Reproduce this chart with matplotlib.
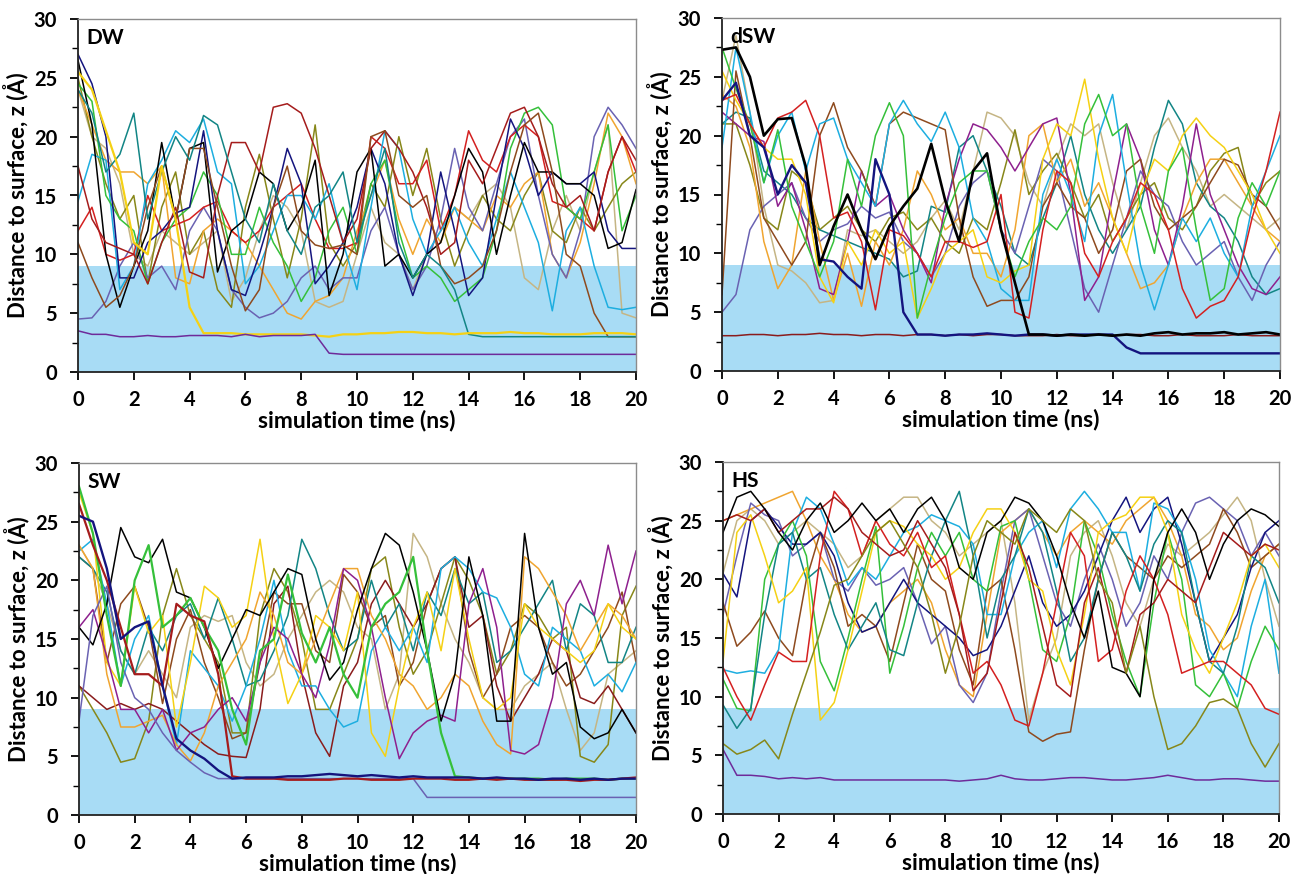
import numpy as np
import matplotlib
matplotlib.use('Agg')
import matplotlib.pyplot as plt
from matplotlib.ticker import MultipleLocator

# time axis (ns), sampled every 0.5 ns
time_ns = np.arange(0, 20.01, 0.5)

# ---------------- DW ----------------
dw_purple = [3.5, 3.2, 3.2, 3.0, 3.0, 3.1, 3.0, 3.0, 3.1, 3.1,
             3.1, 3.0, 3.2, 3.0, 3.1, 3.1, 3.1, 3.2, 1.6, 1.5,
             1.5, 1.5, 1.5, 1.5, 1.5, 1.5, 1.5, 1.5, 1.5, 1.5,
             1.5, 1.5, 1.5, 1.5, 1.5, 1.5, 1.5, 1.5, 1.5, 1.5, 1.5]
dw_yellow = [25.5, 24.0, 20.5, 17.0, 11.0, 10.0, 17.5, 13.0, 5.5, 3.3,
             3.3, 3.3, 3.2, 3.2, 3.2, 3.2, 3.2, 3.1, 3.0, 3.2,
             3.2, 3.3, 3.3, 3.4, 3.4, 3.3, 3.3, 3.2, 3.3, 3.3,
             3.3, 3.4, 3.3, 3.3, 3.2, 3.2, 3.2, 3.3, 3.3, 3.3, 3.2]
dw_teal = [24.0, 22.0, 17.0, 18.5, 22.0, 13.0, 17.0, 20.0, 18.0, 21.8,
           21.0, 17.0, 13.0, 11.0, 16.0, 12.0, 10.0, 14.0, 15.0, 17.0,
           11.0, 15.0, 19.0, 11.0, 8.0, 10.0, 9.0, 7.0, 3.2, 3.0,
           3.0, 3.0, 3.0, 3.0, 3.0, 3.0, 3.0, 3.0, 3.0, 3.0, 3.0]
dw_brown = [11.0, 8.0, 5.5, 6.5, 9.0, 14.0, 17.5, 13.0, 19.0, 19.0,
            14.0, 9.0, 5.2, 7.0, 14.0, 17.5, 12.0, 10.8, 10.5, 10.8,
            10.0, 20.0, 20.5, 15.0, 14.0, 15.0, 9.0, 7.5, 8.0, 9.0,
            12.0, 17.0, 21.0, 22.0, 17.0, 10.0, 9.0, 5.0, 3.0, 3.0, 3.0]
dw_cyan = [14.5, 18.5, 18.0, 7.0, 9.0, 16.0, 18.0, 20.5, 19.5, 21.5,
           17.0, 16.0, 7.5, 9.0, 12.0, 15.0, 15.0, 13.0, 16.0, 11.0,
           7.0, 14.0, 20.5, 19.0, 13.0, 10.0, 12.0, 14.0, 11.0, 9.0,
           13.0, 17.0, 14.0, 11.0, 5.2, 12.0, 14.0, 9.0, 5.5, 5.3, 5.5]
dw_tan = [24.0, 20.0, 19.0, 16.0, 10.0, 9.0, 12.0, 11.0, 10.0, 11.0,
          12.0, 6.0, 8.0, 12.0, 15.0, 14.0, 12.0, 6.0, 5.5, 6.0,
          10.0, 14.0, 11.0, 10.0, 7.0, 10.0, 12.0, 14.0, 13.0, 15.0,
          16.0, 14.0, 8.0, 7.0, 12.0, 15.0, 12.0, 17.0, 21.0, 5.0, 4.6]
dw_darkred = [17.5, 13.0, 11.0, 10.5, 10.0, 7.5, 11.0, 14.0, 8.5, 8.0,
              15.0, 19.5, 19.5, 17.0, 22.5, 22.8, 22.0, 19.0, 15.0, 11.0,
              13.0, 19.0, 20.5, 19.0, 17.0, 14.0, 10.0, 11.0, 18.0, 16.0,
              19.0, 22.0, 22.5, 20.0, 16.0, 14.0, 15.0, 12.0, 17.0, 20.0, 18.0]
dw_green = [24.5, 23.0, 15.0, 13.0, 12.0, 7.5, 11.0, 13.0, 14.0, 17.0,
            15.0, 10.0, 10.0, 14.0, 11.0, 9.0, 6.0, 8.0, 12.0, 14.0,
            10.0, 16.0, 18.0, 12.0, 8.0, 9.0, 8.0, 6.0, 7.0, 8.0,
            12.0, 19.0, 22.0, 22.5, 21.0, 14.0, 13.0, 17.0, 21.0, 12.0, 15.0]
dw_black = [26.5, 21.0, 10.0, 5.5, 9.0, 12.0, 19.5, 13.0, 19.0, 19.5,
            8.5, 12.0, 13.0, 17.0, 16.0, 12.0, 14.0, 18.0, 6.5, 10.0,
            17.0, 19.0, 9.0, 10.0, 8.0, 10.0, 11.0, 15.0, 19.0, 17.0,
            10.0, 15.0, 19.5, 17.0, 17.0, 16.0, 16.0, 15.0, 10.5, 11.0, 15.5]
dw_navy = [27.0, 24.5, 20.0, 8.0, 8.0, 11.0, 12.0, 13.5, 14.0, 20.5,
           12.0, 7.0, 6.5, 10.0, 14.0, 19.0, 16.0, 7.5, 9.0, 11.0,
           14.0, 19.0, 16.0, 10.0, 6.5, 10.0, 17.0, 12.0, 6.5, 8.0,
           15.0, 21.5, 19.0, 15.0, 17.0, 16.0, 16.0, 17.0, 12.0, 10.5, 10.5]
dw_slate = [4.5, 4.6, 6.0, 9.0, 11.0, 8.0, 9.0, 7.0, 12.0, 14.0,
            12.0, 7.0, 5.5, 4.6, 5.0, 6.0, 8.0, 9.0, 7.0, 8.0,
            8.0, 12.0, 14.0, 10.0, 7.0, 9.0, 13.0, 19.0, 14.0, 12.0,
            16.0, 20.0, 21.5, 15.0, 10.0, 8.0, 12.0, 20.0, 22.5, 21.0, 19.0]
dw_olive = [25.0, 20.0, 16.0, 13.0, 15.0, 7.5, 14.0, 17.0, 10.0, 12.0,
            7.0, 5.5, 14.0, 18.5, 13.0, 8.0, 13.0, 21.0, 11.0, 9.0,
            11.0, 16.0, 14.0, 20.0, 15.0, 19.0, 13.0, 9.0, 12.0, 15.0,
            13.0, 12.0, 15.0, 17.0, 12.0, 11.0, 14.0, 12.0, 14.0, 16.0, 17.0]
dw_orange = [24.0, 21.0, 18.0, 17.0, 17.0, 16.0, 17.5, 8.0, 7.5, 12.0,
             13.0, 12.0, 11.0, 9.0, 7.0, 5.0, 4.5, 6.0, 6.5, 8.0,
             12.0, 15.0, 18.0, 13.0, 10.0, 13.0, 11.0, 14.0, 13.0, 12.0,
             15.0, 14.0, 16.0, 17.0, 10.0, 8.0, 11.0, 16.0, 22.0, 20.0, 16.0]
dw_red = [12.0, 14.0, 10.0, 9.5, 10.0, 15.0, 12.0, 12.5, 13.0, 14.0,
          14.5, 12.0, 11.0, 12.0, 14.0, 15.0, 16.0, 13.0, 10.5, 10.5,
          11.0, 20.0, 19.0, 16.0, 16.0, 18.0, 12.0, 15.0, 20.5, 18.0,
          17.0, 20.0, 21.0, 20.0, 14.5, 14.0, 13.0, 12.0, 17.0, 20.0, 17.0]

# ---------------- dSW ----------------
ds_maroon = [3.0, 3.0, 3.1, 3.1, 3.0, 3.1, 3.1, 3.2, 3.1, 3.1,
             3.0, 3.1, 3.1, 3.0, 3.1, 3.1, 3.0, 3.1, 3.0, 3.1,
             3.1, 3.0, 3.0, 3.0, 3.1, 3.0, 3.0, 3.1, 3.0, 3.1,
             3.1, 3.0, 3.0, 3.1, 3.0, 3.0, 3.0, 3.1, 3.0, 3.0, 3.0]
ds_black = [27.3, 27.5, 25.0, 20.0, 21.4, 21.5, 17.4, 9.0, 12.3, 15.0,
            12.0, 9.5, 12.3, 14.0, 15.5, 19.3, 14.5, 11.0, 17.0, 18.5,
            12.0, 7.5, 3.1, 3.1, 3.0, 3.1, 3.0, 3.1, 3.0, 3.1,
            3.0, 3.2, 3.3, 3.1, 3.2, 3.2, 3.3, 3.1, 3.2, 3.3, 3.1]
ds_navy = [23.0, 24.5, 20.0, 19.0, 15.0, 17.5, 16.0, 9.5, 9.3, 8.0,
           7.0, 18.0, 15.0, 5.0, 3.1, 3.1, 3.0, 3.1, 3.1, 3.2,
           3.1, 3.0, 3.1, 3.1, 3.0, 3.1, 3.1, 3.1, 3.1, 2.0,
           1.5, 1.5, 1.5, 1.5, 1.5, 1.5, 1.5, 1.5, 1.5, 1.5, 1.5]
ds_cyan = [19.0, 27.5, 22.0, 16.0, 20.0, 22.0, 17.0, 21.0, 21.5, 18.0,
           16.0, 14.0, 21.0, 23.0, 21.0, 19.5, 22.0, 19.0, 13.0, 11.0,
           7.0, 6.0, 6.0, 15.0, 18.0, 15.0, 11.0, 20.0, 23.5, 16.0,
           9.0, 5.2, 9.0, 13.0, 11.0, 13.0, 10.0, 8.0, 14.0, 17.0, 20.0]
ds_green = [27.5, 24.0, 21.0, 16.0, 20.5, 14.0, 11.0, 8.0, 11.0, 18.0,
            14.0, 20.0, 22.8, 20.0, 4.5, 9.0, 13.0, 16.0, 17.0, 17.0,
            12.0, 8.0, 11.0, 13.0, 12.0, 14.0, 21.0, 23.5, 20.0, 21.0,
            14.0, 10.0, 17.0, 19.0, 12.0, 6.0, 7.0, 13.0, 16.0, 14.0, 17.0]
ds_yellow = [25.5, 23.0, 21.0, 19.0, 18.0, 18.0, 15.0, 8.0, 5.8, 11.0,
             9.0, 12.0, 10.0, 11.0, 4.5, 7.0, 10.0, 11.0, 12.0, 8.0,
             7.5, 8.5, 9.0, 18.0, 21.0, 20.0, 24.8, 18.0, 13.0, 10.0,
             15.0, 18.0, 17.0, 20.0, 21.5, 20.0, 19.0, 17.0, 15.0, 12.0, 10.0]
ds_orange = [23.5, 22.5, 19.0, 11.0, 7.0, 9.0, 17.0, 11.0, 6.0, 10.0,
             5.5, 11.0, 9.0, 12.0, 17.0, 15.0, 12.0, 13.0, 10.0, 10.0,
             8.0, 12.0, 20.0, 21.0, 16.0, 18.0, 14.0, 16.0, 13.0, 10.0,
             7.0, 7.5, 9.0, 13.0, 16.0, 18.0, 18.0, 16.0, 14.0, 12.0, 11.0]
ds_red = [23.0, 23.5, 21.0, 19.0, 21.5, 22.0, 23.0, 20.0, 13.0, 13.5,
          11.0, 5.2, 12.0, 11.5, 10.0, 8.0, 11.0, 11.0, 10.5, 11.0,
          15.0, 5.0, 4.5, 12.0, 17.0, 16.0, 10.0, 8.0, 11.0, 13.0,
          16.0, 15.0, 12.0, 7.0, 4.5, 5.5, 6.0, 8.0, 13.0, 17.0, 22.0]
ds_brown = [6.5, 25.5, 20.0, 13.0, 11.0, 9.0, 11.0, 20.0, 22.8, 19.0,
            17.0, 14.0, 21.0, 22.0, 21.5, 21.0, 20.5, 13.0, 8.0, 5.5,
            6.0, 6.0, 8.0, 14.0, 16.0, 14.0, 13.0, 10.0, 12.0, 17.0,
            18.0, 14.0, 12.0, 13.0, 14.0, 16.0, 18.0, 17.5, 15.0, 14.0, 12.0]
ds_slate = [5.0, 6.5, 12.0, 14.0, 15.0, 16.0, 13.0, 11.0, 12.0, 12.5,
            14.0, 13.0, 13.5, 11.0, 10.0, 8.0, 10.0, 14.0, 16.0, 17.0,
            12.0, 10.0, 14.0, 18.0, 17.0, 12.0, 7.0, 5.0, 9.0, 13.0,
            17.0, 15.0, 14.0, 11.0, 9.0, 10.0, 11.0, 8.0, 6.0, 9.0, 11.0]
ds_purple = [22.0, 21.0, 20.0, 19.5, 14.0, 16.0, 12.0, 7.0, 6.5, 11.0,
             17.0, 14.0, 15.0, 12.0, 10.0, 7.5, 14.0, 18.0, 21.0, 20.5,
             19.0, 17.0, 19.0, 21.0, 21.5, 15.0, 6.0, 8.0, 15.0, 21.0,
             18.0, 12.0, 9.0, 14.0, 21.0, 15.0, 12.0, 9.0, 7.0, 6.5, 8.0]
ds_tan = [23.0, 28.5, 22.0, 14.0, 9.0, 8.5, 7.5, 5.8, 6.0, 12.0,
          11.5, 12.0, 11.0, 10.0, 11.0, 13.0, 14.5, 12.0, 17.0, 22.0,
          21.5, 20.0, 16.0, 14.0, 18.0, 21.0, 20.0, 21.0, 16.0, 12.0,
          16.0, 20.0, 21.5, 19.0, 17.0, 14.0, 15.0, 14.0, 13.0, 12.0, 13.0]
ds_teal = [21.0, 22.0, 21.5, 17.0, 16.0, 15.0, 13.0, 12.0, 11.5, 11.0,
           10.5, 10.0, 9.5, 8.0, 8.5, 14.0, 13.5, 19.0, 20.0, 17.0,
           14.0, 10.0, 9.0, 13.0, 16.0, 20.0, 15.0, 12.0, 10.0, 12.0,
           14.0, 19.0, 23.0, 21.0, 16.0, 14.0, 13.0, 11.0, 8.0, 6.5, 7.0]
ds_olive = [21.0, 21.0, 17.5, 13.0, 12.0, 17.0, 16.0, 12.0, 13.0, 14.0,
            12.0, 11.0, 13.0, 13.5, 12.0, 13.0, 11.0, 10.0, 13.0, 12.0,
            16.0, 20.5, 15.0, 17.0, 18.5, 16.0, 13.0, 15.0, 11.0, 13.0,
            15.0, 16.0, 13.0, 12.0, 14.0, 17.0, 18.5, 19.0, 14.0, 16.0, 17.0]

# ---------------- SW ----------------
sw_black = [16.0, 14.5, 18.0, 24.5, 22.0, 21.5, 23.5, 19.0, 18.5, 16.0,
            12.5, 15.0, 17.5, 17.0, 19.0, 21.0, 20.5, 15.0, 11.5, 13.0,
            17.5, 21.0, 24.0, 23.0, 19.0, 14.0, 8.0, 12.0, 22.0, 17.0,
            8.0, 8.0, 24.0, 16.0, 12.0, 13.0, 7.5, 6.5, 7.0, 9.0, 7.0]
sw_navy = [25.5, 25.0, 21.0, 15.0, 16.0, 16.5, 11.0, 6.5, 5.5, 4.8,
           3.8, 3.1, 3.2, 3.2, 3.2, 3.3, 3.3, 3.4, 3.5, 3.4,
           3.3, 3.4, 3.3, 3.2, 3.3, 3.2, 3.2, 3.2, 3.2, 3.1,
           3.2, 3.1, 3.1, 3.0, 3.1, 3.1, 3.0, 3.1, 3.0, 3.1, 3.1]
sw_darkred = [26.5, 23.0, 20.0, 16.0, 12.0, 12.0, 11.0, 18.0, 17.0, 16.5,
              12.0, 3.3, 3.1, 3.1, 3.1, 3.0, 3.0, 3.0, 3.0, 3.1,
              3.1, 3.0, 3.0, 3.0, 3.1, 3.1, 3.1, 3.0, 3.0, 3.1,
              3.0, 3.1, 3.0, 3.0, 3.0, 3.0, 2.9, 3.0, 3.0, 3.1, 3.2]
sw_slate = [8.0, 17.0, 19.5, 13.0, 10.0, 9.0, 7.0, 5.5, 4.5, 3.6,
            3.1, 3.1, 3.1, 3.1, 3.1, 3.1, 3.1, 3.1, 3.1, 3.1,
            3.1, 3.1, 3.1, 3.1, 3.1, 1.5, 1.5, 1.5, 1.5, 1.5,
            1.5, 1.5, 1.5, 1.5, 1.5, 1.5, 1.5, 1.5, 1.5, 1.5, 1.5]
sw_green = [28.0, 24.0, 17.0, 11.0, 20.0, 23.0, 16.0, 17.0, 18.5, 16.0,
            14.0, 9.0, 6.0, 14.0, 15.0, 20.5, 15.5, 13.0, 16.0, 12.0,
            10.0, 16.0, 18.0, 19.0, 22.0, 14.0, 7.0, 3.3, 3.2, 3.1,
            3.1, 3.1, 3.1, 3.1, 3.0, 3.1, 3.1, 3.1, 3.0, 3.1, 3.1]
sw_teal = [22.0, 21.0, 19.0, 14.0, 12.0, 16.0, 14.0, 17.0, 18.0, 15.0,
           18.5, 15.0, 11.0, 11.5, 14.0, 17.0, 23.5, 21.0, 17.0, 14.0,
           15.0, 20.0, 16.0, 18.0, 14.0, 19.0, 17.0, 21.0, 18.0, 19.0,
           13.0, 14.0, 16.0, 18.0, 20.0, 14.0, 18.0, 17.0, 13.0, 13.0, 16.0]
sw_cyan = [22.5, 23.5, 18.0, 11.0, 15.0, 17.0, 11.0, 6.0, 14.0, 12.5,
           11.0, 8.0, 11.0, 15.0, 20.0, 14.0, 11.0, 11.0, 9.0, 7.5,
           8.0, 14.0, 16.0, 14.0, 16.0, 13.0, 21.0, 22.0, 21.0, 19.0,
           18.5, 16.0, 12.0, 11.0, 16.0, 15.0, 14.0, 11.0, 12.0, 10.5, 13.0]
sw_yellow = [27.5, 24.0, 13.0, 11.0, 19.5, 15.5, 17.0, 7.5, 13.0, 19.5,
             18.5, 16.0, 17.0, 23.5, 15.0, 9.5, 12.0, 17.0, 16.0, 14.0,
             19.0, 7.0, 5.0, 11.0, 16.0, 19.0, 14.0, 21.0, 15.0, 10.0,
             9.0, 10.0, 18.0, 16.0, 15.0, 14.0, 13.0, 14.0, 18.0, 16.0, 15.0]
sw_orange = [23.0, 21.0, 12.0, 7.5, 7.5, 8.0, 8.5, 6.0, 4.6, 7.0,
             11.0, 13.0, 15.0, 19.0, 17.0, 13.0, 12.0, 15.0, 18.0, 21.0,
             21.0, 17.0, 15.0, 12.0, 11.0, 9.0, 10.0, 12.0, 11.0, 8.0,
             6.0, 5.2, 22.0, 21.0, 19.0, 17.0, 14.0, 16.0, 18.0, 17.0, 15.0]
sw_purple = [16.0, 17.5, 13.5, 9.0, 9.0, 7.0, 9.0, 5.5, 7.0, 7.5,
             9.0, 10.0, 8.0, 13.0, 16.0, 15.0, 12.0, 10.0, 14.5, 21.0,
             20.0, 16.0, 10.0, 4.8, 7.0, 8.0, 8.5, 8.0, 18.0, 21.0,
             16.0, 5.5, 5.2, 6.0, 10.0, 18.0, 20.0, 17.0, 23.0, 18.0, 22.5]
sw_maroon = [11.0, 10.0, 9.0, 9.5, 9.0, 9.5, 9.0, 8.0, 7.0, 6.0,
             5.2, 5.0, 4.9, 9.0, 18.0, 19.5, 12.0, 7.0, 5.0, 11.0,
             13.0, 18.0, 20.0, 18.0, 16.0, 18.0, 21.0, 22.0, 16.0, 17.0,
             11.0, 8.0, 10.0, 12.0, 15.0, 14.0, 10.0, 9.5, 11.0, 9.0, 7.0]
sw_brown = [22.0, 21.0, 13.0, 18.0, 19.5, 16.0, 9.5, 15.0, 17.5, 13.0,
            10.0, 6.5, 7.0, 13.0, 19.0, 18.0, 18.0, 14.0, 13.0, 20.5,
            19.0, 16.0, 17.0, 11.0, 13.0, 18.0, 21.0, 22.0, 14.0, 10.0,
            12.0, 16.0, 17.0, 16.0, 13.0, 11.0, 12.0, 14.0, 16.0, 19.0, 13.0]
sw_olive = [11.0, 9.0, 7.0, 4.5, 4.8, 8.0, 17.0, 21.0, 17.0, 15.0,
            13.0, 7.0, 7.0, 17.0, 21.0, 19.0, 15.0, 9.0, 9.0, 12.0,
            15.0, 21.0, 22.0, 16.0, 12.0, 14.0, 18.0, 22.0, 20.0, 17.0,
            12.0, 14.0, 18.0, 17.0, 15.0, 16.0, 5.0, 4.5, 6.0, 17.0, 19.5]
sw_tan = [23.0, 21.0, 18.0, 14.0, 12.0, 14.0, 12.0, 10.0, 16.0, 17.0,
          16.5, 17.0, 13.0, 11.0, 12.0, 15.0, 17.0, 19.0, 20.0, 19.0,
          16.0, 15.0, 9.0, 12.0, 24.0, 22.0, 18.0, 15.0, 13.0, 10.0,
          9.0, 9.0, 11.0, 12.0, 13.0, 9.0, 5.5, 7.0, 12.0, 13.0, 14.0]

# ---------------- HS ----------------
hs_purple = [5.5, 3.3, 3.3, 3.2, 3.0, 3.1, 3.0, 3.1, 2.9, 2.9,
             2.9, 2.9, 2.9, 2.9, 2.9, 2.9, 2.9, 2.8, 2.9, 3.0,
             3.3, 3.0, 2.9, 2.9, 3.0, 3.1, 3.1, 3.0, 2.9, 2.9,
             3.0, 3.1, 3.3, 3.1, 2.9, 2.9, 3.0, 3.0, 2.9, 2.8, 2.8]
hs_olive = [6.0, 5.1, 5.5, 6.3, 4.7, 8.5, 12.0, 15.5, 19.5, 20.0,
            22.0, 24.0, 25.0, 23.0, 21.0, 17.0, 12.0, 16.0, 22.0, 25.0,
            24.0, 23.0, 26.0, 25.0, 24.0, 26.0, 25.0, 20.0, 18.0, 12.0,
            16.0, 10.0, 5.5, 6.0, 7.5, 9.5, 9.8, 9.0, 6.0, 4.0, 6.0]
hs_yellow = [13.0, 24.0, 25.5, 22.0, 18.0, 19.0, 21.0, 8.0, 9.5, 14.0,
             19.0, 24.0, 25.0, 24.5, 23.0, 22.0, 20.0, 21.0, 24.0, 26.0,
             26.0, 24.0, 20.0, 19.0, 14.0, 11.0, 17.0, 24.0, 25.0, 25.5,
             27.0, 27.0, 24.0, 17.0, 14.0, 12.0, 15.0, 18.0, 22.0, 23.0, 21.0]
hs_teal = [9.3, 7.3, 9.0, 17.0, 23.0, 24.0, 20.0, 21.0, 17.0, 14.0,
           16.0, 18.0, 14.0, 13.5, 18.0, 22.0, 25.0, 27.5, 22.0, 15.0,
           20.0, 22.0, 26.0, 24.0, 19.0, 13.0, 15.0, 20.0, 24.0, 22.0,
           19.0, 23.0, 25.0, 24.0, 18.0, 13.0, 12.0, 16.0, 22.0, 21.0, 18.0]
hs_green = [11.5, 9.0, 8.8, 20.0, 23.0, 25.0, 22.0, 13.0, 10.5, 15.0,
            20.0, 24.5, 12.0, 16.0, 21.0, 24.0, 22.0, 24.0, 20.0, 19.0,
            24.5, 25.0, 20.0, 14.0, 13.0, 17.0, 25.0, 22.0, 17.0, 13.0,
            10.0, 18.0, 24.0, 20.0, 11.0, 10.0, 12.0, 9.0, 13.0, 16.0, 14.0]
hs_red = [12.5, 10.0, 8.0, 11.0, 13.8, 13.0, 13.0, 22.0, 27.5, 26.0,
          22.0, 25.0, 23.0, 22.0, 24.0, 21.0, 22.0, 17.0, 12.0, 13.0,
          11.0, 8.0, 7.5, 12.0, 18.0, 24.0, 22.0, 13.0, 14.0, 19.0,
          22.0, 20.0, 17.0, 12.0, 12.5, 13.0, 13.0, 12.0, 11.0, 9.0, 8.5]
hs_darkred = [25.0, 25.5, 25.0, 26.0, 24.0, 25.0, 26.0, 26.0, 27.0, 26.0,
              24.0, 23.0, 22.0, 22.5, 25.0, 23.0, 21.0, 17.0, 10.5, 12.0,
              18.0, 24.0, 21.0, 16.0, 11.0, 10.0, 18.0, 21.0, 16.0, 12.0,
              17.0, 18.0, 20.0, 19.0, 18.0, 21.0, 24.0, 23.0, 22.0, 23.0, 22.5]
hs_black = [24.0, 27.0, 27.5, 26.0, 24.0, 22.5, 25.0, 26.5, 24.0, 25.0,
            26.5, 25.0, 26.0, 24.0, 26.0, 27.0, 25.0, 21.0, 20.0, 24.0,
            25.0, 27.0, 26.5, 25.0, 22.0, 18.0, 15.0, 19.0, 12.5, 12.0,
            10.0, 20.0, 24.0, 26.0, 24.0, 20.0, 23.0, 25.0, 26.0, 25.5, 24.5]
hs_navy = [20.5, 18.5, 25.0, 26.0, 24.5, 23.0, 23.0, 24.0, 22.0, 18.0,
           15.5, 16.0, 18.0, 20.0, 18.0, 17.0, 16.0, 15.0, 13.5, 14.0,
           16.0, 19.0, 22.0, 18.0, 16.0, 17.0, 19.0, 22.0, 25.0, 27.0,
           24.0, 26.0, 27.0, 23.0, 18.0, 13.0, 15.0, 17.0, 21.0, 24.0, 25.0]
hs_cyan = [12.3, 12.0, 12.2, 12.0, 14.0, 24.0, 27.0, 26.0, 23.0, 19.5,
           21.0, 20.0, 22.0, 24.0, 24.5, 25.5, 25.0, 24.5, 23.0, 17.0,
           17.0, 22.0, 24.0, 25.0, 21.0, 26.0, 27.5, 26.0, 24.0, 24.0,
           19.0, 26.5, 26.0, 24.0, 20.0, 14.0, 12.0, 10.0, 16.0, 20.0, 12.0]
hs_brown = [18.0, 14.3, 15.5, 17.3, 15.0, 13.5, 20.0, 24.0, 21.0, 16.0,
            17.0, 16.0, 13.0, 18.0, 23.0, 20.0, 19.0, 14.0, 11.0, 19.0,
            20.0, 14.0, 7.0, 6.2, 6.8, 7.0, 14.0, 20.0, 24.0, 22.0,
            21.0, 20.0, 22.0, 21.0, 22.0, 23.0, 26.0, 24.0, 21.0, 22.0, 23.0]
hs_tan = [20.5, 25.0, 26.0, 25.0, 23.0, 24.0, 25.0, 24.0, 23.0, 21.0,
          22.0, 25.0, 26.0, 27.0, 27.0, 25.0, 24.0, 22.0, 23.0, 24.0,
          25.0, 18.0, 8.0, 12.0, 15.0, 22.0, 24.0, 25.0, 22.0, 18.0,
          16.0, 20.0, 23.0, 22.0, 23.0, 24.0, 25.5, 27.0, 25.0, 20.0, 16.0]
hs_orange = [25.0, 25.5, 26.0, 26.5, 27.0, 27.5, 25.0, 22.0, 20.0, 17.0,
             15.5, 16.0, 18.0, 19.0, 20.0, 18.0, 14.0, 11.0, 10.0, 17.0,
             24.0, 25.0, 26.0, 24.0, 22.0, 24.0, 25.0, 24.0, 23.0, 25.0,
             26.0, 27.0, 25.0, 22.0, 17.0, 16.0, 14.0, 15.0, 19.0, 22.0, 23.0]
hs_slate = [17.0, 22.0, 26.5, 25.5, 25.0, 22.0, 23.0, 24.0, 20.0, 19.0,
            21.0, 19.5, 20.0, 21.0, 18.0, 14.5, 16.0, 11.0, 9.5, 12.0,
            19.0, 25.0, 26.0, 22.0, 18.0, 16.0, 20.0, 23.0, 20.0, 16.0,
            18.0, 22.0, 20.0, 24.0, 26.5, 27.0, 26.0, 25.0, 22.0, 24.0, 22.0]

colors = {
    'purple': '#6E2B9A', 'yellow': '#F5D114', 'teal': '#128585',
    'brown': '#8E4A1E', 'cyan': '#1DAEE0', 'tan': '#C5B584',
    'darkred': '#A51C1C', 'green': '#35C03A', 'black': '#000000',
    'navy': '#14147E', 'slate': '#6A62B2', 'olive': '#878719',
    'orange': '#F0A530', 'red': '#D42020', 'maroon': '#8A1C1C',
    'magenta': '#8E208E',
}

panels = [
    ('DW', [('tan', dw_tan), ('olive', dw_olive), ('orange', dw_orange),
            ('slate', dw_slate), ('red', dw_red), ('cyan', dw_cyan),
            ('green', dw_green), ('navy', dw_navy), ('black', dw_black),
            ('darkred', dw_darkred), ('brown', dw_brown), ('teal', dw_teal),
            ('yellow', dw_yellow), ('purple', dw_purple)]),
    ('dSW', [('tan', ds_tan), ('olive', ds_olive), ('teal', ds_teal),
             ('slate', ds_slate), ('orange', ds_orange), ('magenta', ds_purple),
             ('brown', ds_brown), ('cyan', ds_cyan), ('yellow', ds_yellow),
             ('green', ds_green), ('red', ds_red), ('maroon', ds_maroon),
             ('navy', ds_navy), ('black', ds_black)]),
    ('SW', [('tan', sw_tan), ('olive', sw_olive), ('brown', sw_brown),
            ('maroon', sw_maroon), ('teal', sw_teal), ('cyan', sw_cyan),
            ('orange', sw_orange), ('yellow', sw_yellow), ('magenta', sw_purple),
            ('black', sw_black), ('slate', sw_slate), ('green', sw_green),
            ('darkred', sw_darkred), ('navy', sw_navy)]),
    ('HS', [('tan', hs_tan), ('orange', hs_orange), ('slate', hs_slate),
            ('brown', hs_brown), ('navy', hs_navy), ('cyan', hs_cyan),
            ('green', hs_green), ('teal', hs_teal), ('yellow', hs_yellow),
            ('red', hs_red), ('darkred', hs_darkred), ('black', hs_black),
            ('olive', hs_olive), ('purple', hs_purple)]),
]

thick = {('dSW', 'black'): 1.9, ('dSW', 'navy'): 1.7, ('DW', 'yellow'): 1.6,
         ('SW', 'navy'): 1.7, ('SW', 'darkred'): 1.6, ('SW', 'green'): 1.6}

plt.rcParams['font.family'] = ['Lato', 'DejaVu Sans']
plt.rcParams['font.weight'] = 'bold'

fig = plt.figure(figsize=(12.92, 8.74), dpi=100)
boxes = [(78, 19, 636, 372), (722, 18, 1280, 371),
         (79, 463, 636, 815), (723, 462, 1279, 814)]
W, H = 1292, 874

for (name, lines), (x0, y0, x1, y1) in zip(panels, boxes):
    ax = fig.add_axes([x0 / W, 1 - y1 / H, (x1 - x0) / W, (y1 - y0) / H])
    ax.axhspan(0, 9, color='#A8DCF5', lw=0, zorder=0)
    for cname, vals in lines:
        ax.plot(time_ns, vals, color=colors[cname],
                lw=thick.get((name, cname), 1.1), zorder=2,
                solid_joinstyle='round')
    ax.set_xlim(0, 20)
    ax.set_ylim(0, 30)
    ax.xaxis.set_major_locator(MultipleLocator(2))
    ax.yaxis.set_major_locator(MultipleLocator(5))
    ax.yaxis.set_minor_locator(MultipleLocator(2.5))
    ax.tick_params(which='major', direction='out', length=6, width=1.3,
                   labelsize=14.5)
    ax.tick_params(axis='x', pad=7)
    ax.tick_params(axis='y', pad=9)
    ax.tick_params(which='minor', axis='y', direction='out', length=4, width=1.0)
    for lab in ax.get_xticklabels() + ax.get_yticklabels():
        lab.set_fontweight('bold')
    for s in ('top', 'right'):
        ax.spines[s].set_color('#8C8C8C')
        ax.spines[s].set_linewidth(1.0)
    for s in ('left', 'bottom'):
        ax.spines[s].set_color('#222222')
        ax.spines[s].set_linewidth(1.3)
    ax.set_xlabel('simulation time (ns)', fontsize=16.5, fontweight='bold', labelpad=0)
    ax.set_ylabel('Distance to surface, z (Å)', fontsize=16, fontweight='bold', labelpad=4)
    ax.text(0.015, 0.975, name, transform=ax.transAxes, va='top', ha='left',
            fontsize=15, fontweight='bold')

fig.savefig('out.png', dpi=100)
